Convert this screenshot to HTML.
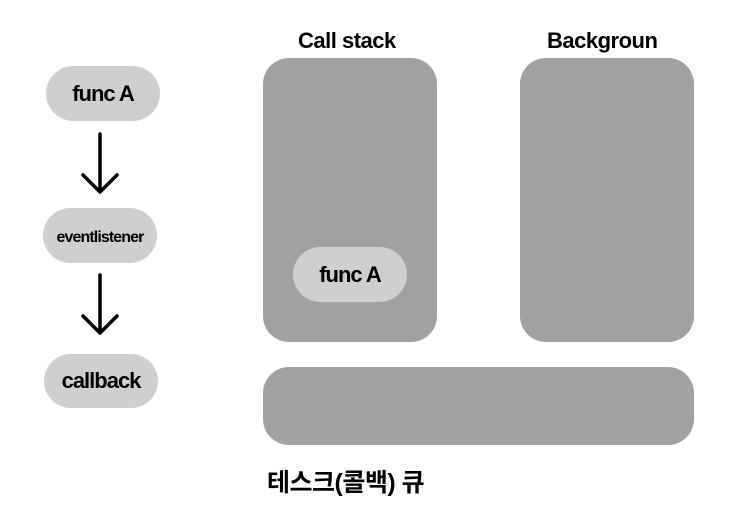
<!DOCTYPE html>
<html><head><meta charset="utf-8"><style>
body{margin:0;width:732px;height:521px;background:#fff;position:relative;overflow:hidden;font-family:"Liberation Sans","Noto Sans CJK KR",sans-serif;}
.a{position:absolute;}
.box{position:absolute;background:#a1a1a1;border-radius:26px;}
.pill{position:absolute;background:#d0cfcf;border-radius:28px;display:flex;align-items:center;justify-content:center;color:#000;font-size:22px;font-weight:bold;letter-spacing:-1px;}
.t{position:absolute;font-weight:bold;font-size:22px;color:#000;letter-spacing:-0.5px;white-space:nowrap;}
</style></head><body>
<div class="t" style="left:298px;top:28px;">Call stack</div>
<div class="t" style="left:547px;top:28px;">Backgroun</div>
<div class="box" style="left:263px;top:58px;width:174px;height:284px;"></div>
<div class="box" style="left:520px;top:58px;width:174px;height:284px;"></div>
<div class="box" style="left:263px;top:367px;width:431px;height:78px;"></div>
<div class="pill" style="left:293px;top:247px;width:114px;height:55px;">func A</div>
<div class="pill" style="left:46px;top:66px;width:114px;height:55px;">func A</div>
<div class="pill" style="left:43px;top:208px;width:114px;height:55px;font-size:16px;letter-spacing:-0.9px;padding-top:4px;box-sizing:border-box;">eventlistener</div>
<div class="pill" style="left:44px;top:354px;width:114px;height:54px;">callback</div>
<svg class="a" style="left:0;top:0" width="732" height="521">
<g stroke="#000" stroke-width="3.5" fill="none" stroke-linecap="round" stroke-linejoin="round">
<path d="M100 134V192M83 175L100 192L117 175"/>
<path d="M100 275V333M83 316L100 333L117 316"/>
</g></svg>
<div class="t" style="left:267px;top:463px;font-size:25px;">테스크(콜백) 큐</div>
</body></html>
